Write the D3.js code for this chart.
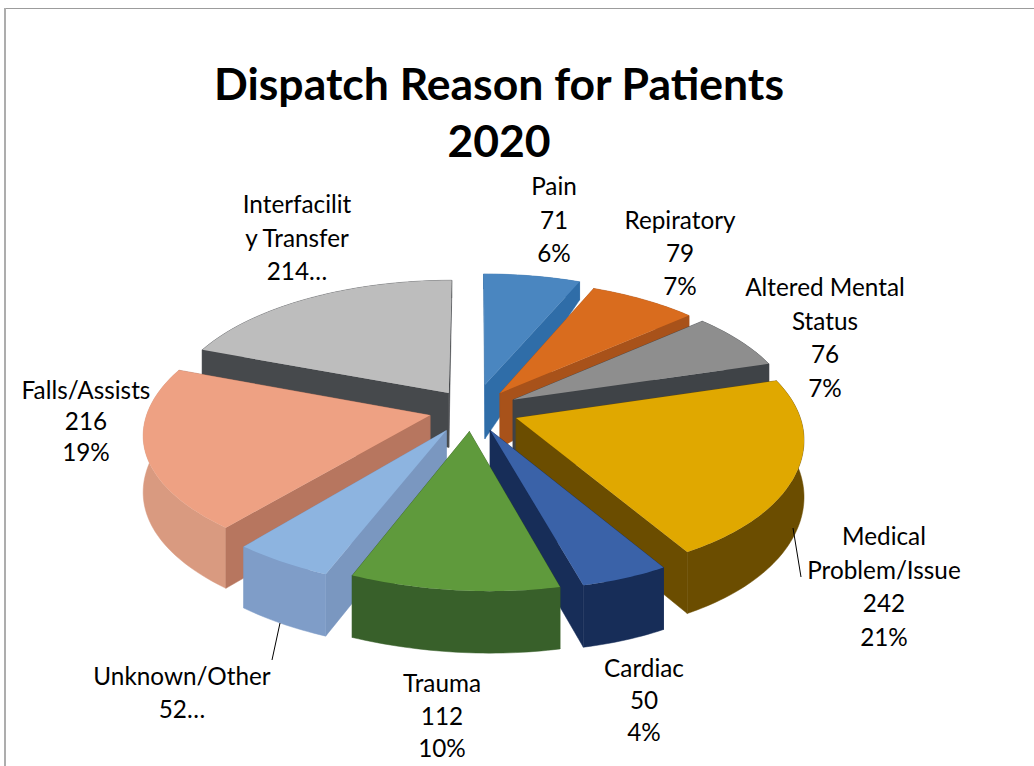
<!DOCTYPE html>
<html><head><meta charset="utf-8">
<script src="https://cdn.jsdelivr.net/npm/d3@7"></script>
<style>html,body{margin:0;padding:0;background:#fff}svg{display:block}text{font-family:Lato,"Open Sans",sans-serif;fill:#000}</style>
</head><body><svg id="c" width="1034" height="766"></svg>
<script>
const categories = ["Pain","Repiratory","Altered Mental Status","Medical Problem/Issue","Cardiac","Trauma","Unknown/Other","Falls/Assists","Interfacility Transfer"];
const values = [71,79,76,242,50,112,52,216,214];
const explode = [0.2,0.16,0.16,0.16,0.16,0.16,0.18,0.16,0.16];
const topColors = ["#4a86c0","#d96c1e","#8e8e8e","#e0a800","#3a62a8","#5f9a3c","#8db4e0","#eea183","#bdbdbd"];
const sideColors = ["#2f6da8","#a8521a","#3f4347","#6b4d00","#172d58","#355a22","#7a97c0","#b7765f","#46494c"];
const outerColors = ["#2f6da8","#a8521a","#3f4347","#6b4d00","#172d58","#38602a","#7f9dc8","#d99a80","#46494c"];
const titleLines = ["Dispatch Reason for Patients","2020"];
const labels = [
 {lines:["Pain","71","6%"],x:554,y:195,gap:33.5},
 {lines:["Repiratory","79","7%"],x:680,y:229,gap:33},
 {lines:["Altered Mental","Status","76","7%"],x:825,y:296,gap:33.5},
 {lines:["Medical","Problem/Issue","242","21%"],x:884,y:545,gap:33.5},
 {lines:["Cardiac","50","4%"],x:644,y:677,gap:32},
 {lines:["Trauma","112","10%"],x:442,y:692,gap:32.5},
 {lines:["Unknown/Other","52…"],x:182,y:685,gap:33},
 {lines:["Falls/Assists","216","19%"],x:86,y:399,gap:31},
 {lines:["Interfacilit","y Transfer","214…"],x:297,y:213,gap:33.5}
];
const leaders = [[[793,528],[801,577]],[[280,623],[272,660]]];

const svg = d3.select("#c");
svg.append("line").attr("x1",4).attr("x2",1034).attr("y1",8.5).attr("y2",8.5).attr("stroke","#9c9c9c").attr("stroke-width",1);
svg.append("line").attr("x1",5).attr("x2",5).attr("y1",8).attr("y2",766).attr("stroke","#adadad").attr("stroke-width",2);

const cx=474, cy=410, Sx=282, Sy=132, p=0.134;
const hScale = d3.scaleLinear().domain([-1.2,-0.2,1]).range([15,54,62]).clamp(true);
function project(X,Y,bottom){
  const s=1/(1-p*Y);
  const shear=14*Math.pow(Math.max(0,Y),3);
  return [cx+X*Sx*s+shear, cy+Y*Sy*s+(bottom?hScale(Y):0)];
}
const pie=d3.pie().sort(null).value(d=>d);
const arcs=pie(values);
const line=d3.line();
const slices=arcs.map((a,i)=>{
  const mid=(a.startAngle+a.endAngle)/2, e=explode[i];
  const c=[e*Math.sin(mid),-e*Math.cos(mid)];
  const pt=t=>[c[0]+Math.sin(t),c[1]-Math.cos(t)];
  const n=Math.max(6,Math.round((a.endAngle-a.startAngle)/0.02));
  const rim=d3.range(n+1).map(k=>pt(a.startAngle+(a.endAngle-a.startAngle)*k/n));
  return {i,c,rim};
});
slices.sort((u,v)=>u.c[1]-v.c[1]);
const g=svg.append("g");
slices.forEach(s=>{
  const i=s.i;
  const P=q=>project(q[0],q[1],false), B=q=>project(q[0],q[1],true);
  const first=s.rim[0], last=s.rim[s.rim.length-1];
  const wall=(pts,color)=>({d:line(pts.map(P).concat(pts.slice().reverse().map(B)))+"Z",color,key:d3.mean(pts,q=>q[1])});
  const walls=[wall([s.c,first],sideColors[i]),wall([s.c,last],sideColors[i]),wall(s.rim,outerColors[i])].sort((a,b)=>a.key-b.key);
  walls.forEach(w=>g.append("path").attr("d",w.d).attr("fill",w.color).attr("stroke",w.color).attr("stroke-width",0.5));
  g.append("path").attr("d",line([s.c].concat(s.rim).map(P))+"Z").attr("fill",topColors[i]);
});

leaders.forEach(l=>svg.append("path").attr("d",line(l)).attr("stroke","#000").attr("fill","none").attr("stroke-width",1));

const t=svg.append("text").attr("text-anchor","middle").attr("font-size",44.5).attr("font-weight",700);
titleLines.forEach((s,k)=>t.append("tspan").attr("x",499).attr("y",100+k*57).text(s));
labels.forEach(l=>{
  const tx=svg.append("text").attr("text-anchor","middle").attr("font-size",24.3);
  l.lines.forEach((s,k)=>tx.append("tspan").attr("x",l.x).attr("y",l.y+k*l.gap).text(s));
});
</script></body></html>
